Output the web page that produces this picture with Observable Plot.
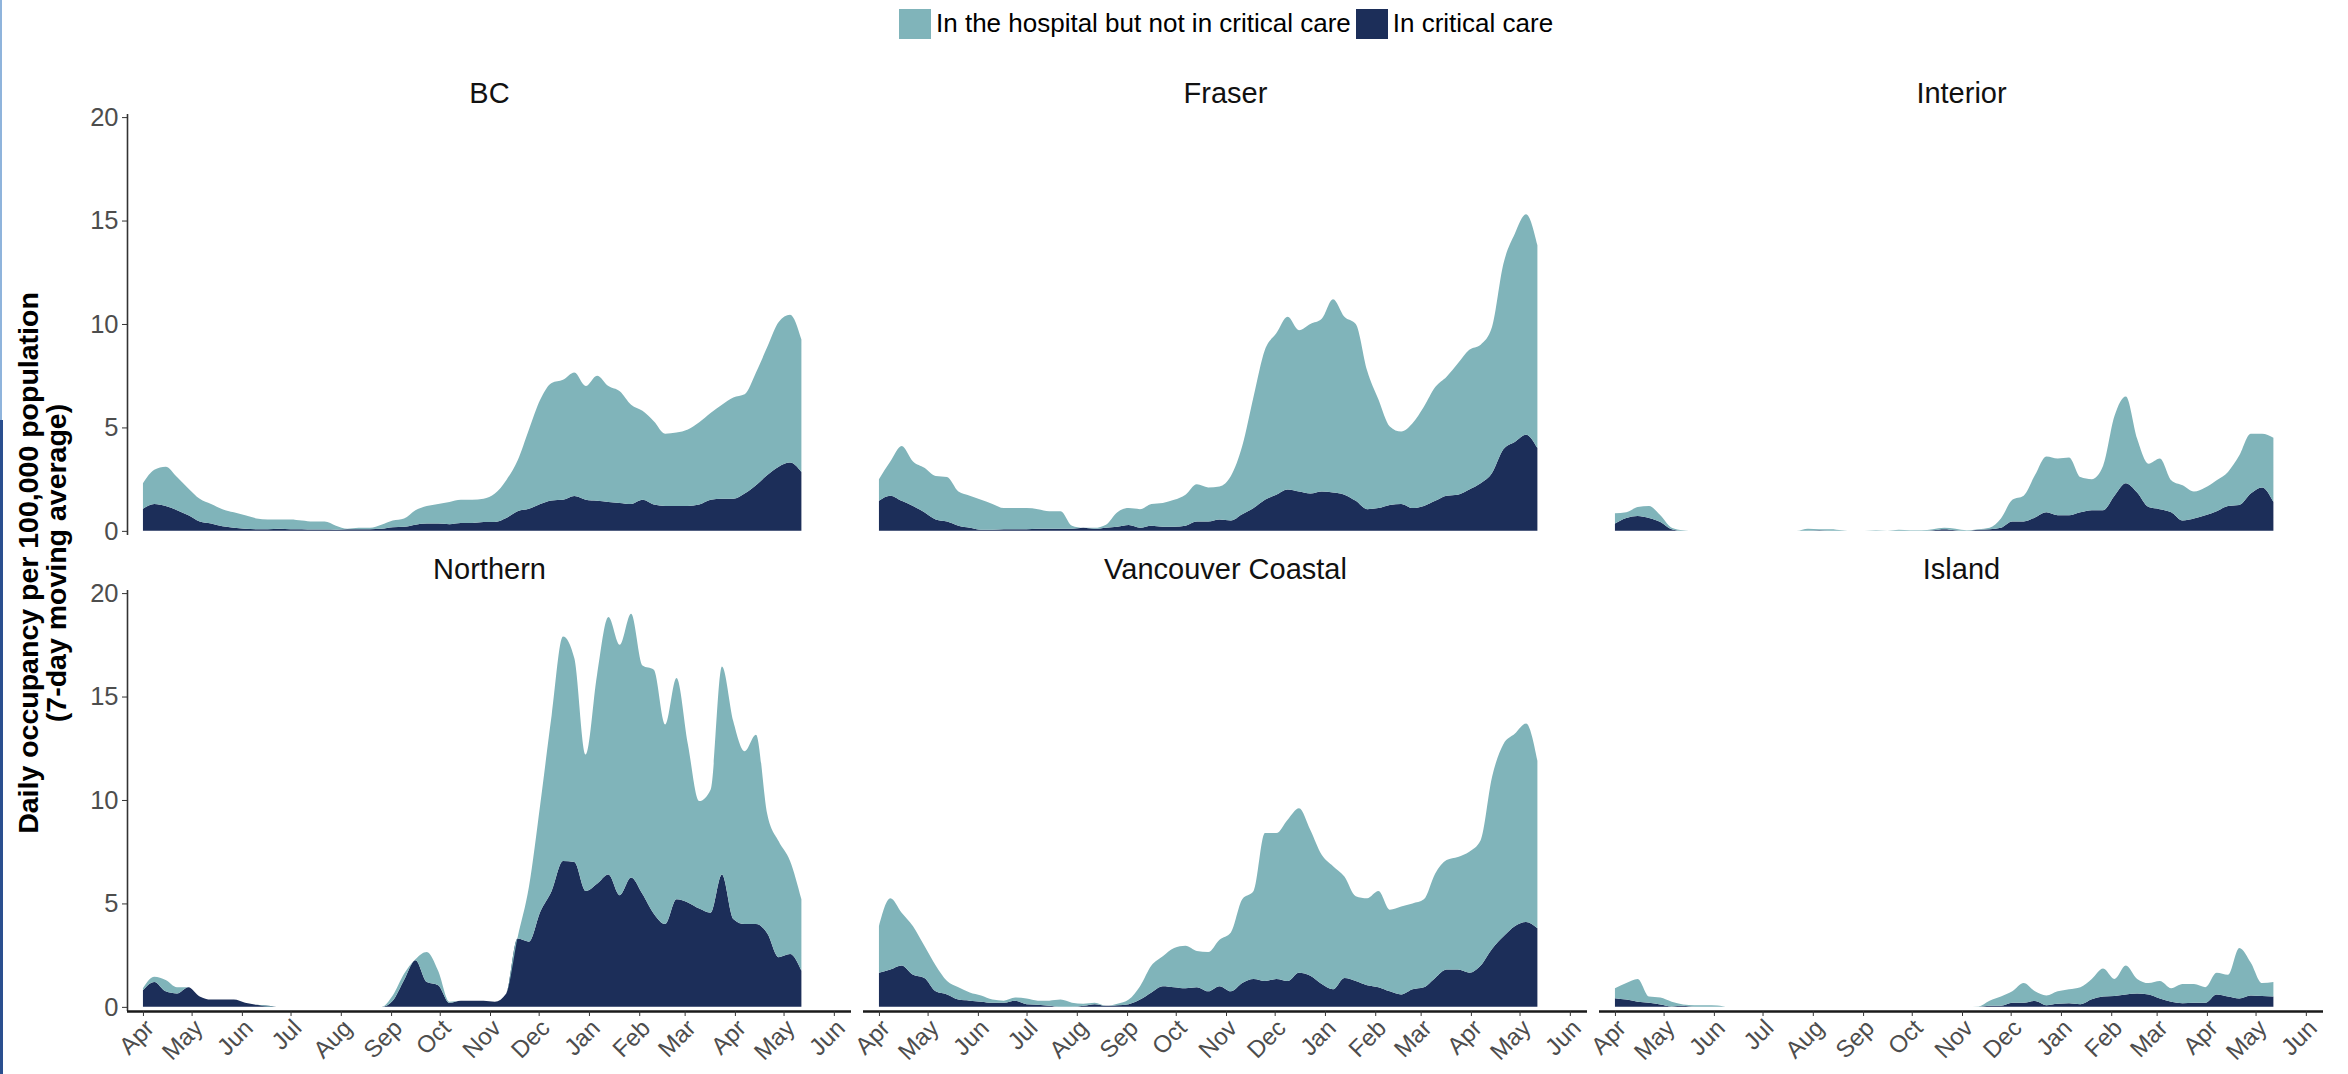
<!DOCTYPE html>
<html>
<head>
<meta charset="utf-8">
<script src="https://cdn.jsdelivr.net/npm/d3@7"></script>
<script src="https://cdn.jsdelivr.net/npm/@observablehq/plot@0.6"></script>
<style>
  html, body { margin: 0; padding: 0; background: #fff; }
  #wrap { position: relative; width: 2348px; height: 1074px; font-family: "Liberation Sans", Arial, sans-serif; overflow: hidden; }
  #legend { position: absolute; left: 899px; top: 8px; display: flex; align-items: center; font-size: 26px; color: #000; white-space: nowrap; }
  #legend .key { width: 32px; height: 30px; margin-right: 5px; }
  #legend .lab { margin-right: 5px; }
  .ytitle { position: absolute; font-weight: bold; font-size: 28.5px; color: #000; white-space: nowrap; transform: translate(-50%, -50%) rotate(-90deg); }
  #edge1 { position: absolute; left: 0; top: 0; width: 2px; height: 420px; background: #8fb4dc; }
  #edge2 { position: absolute; left: 0; top: 420px; width: 3px; height: 654px; background: #2a4f8f; }
</style>
</head>
<body>
<div id="wrap">
  <div id="edge1"></div><div id="edge2"></div>
  <div id="legend"></div>
  <div class="ytitle" style="left:28px; top:563px;">Daily occupancy per 100,000 population</div>
  <div class="ytitle" style="left:56px; top:563px;">(7-day moving average)</div>
</div>
<script>
// ---- categories ----
const regions = ["BC", "Fraser", "Interior", "Northern", "Vancouver Coastal", "Island"];
const seriesNames = ["In the hospital but not in critical care", "In critical care"];
const seriesColors = ["#80b4ba", "#1c2e59"];
const yTicks = [0, 5, 10, 15, 20];
const monthTicks = ["2020-04-01","2020-05-01","2020-06-01","2020-07-01","2020-08-01","2020-09-01","2020-10-01",
  "2020-11-01","2020-12-01","2021-01-01","2021-02-01","2021-03-01","2021-04-01","2021-05-01","2021-06-01"];

// weekly dates (7-day moving average, sampled weekly)
const dates = ["2020-04-01","2020-04-08","2020-04-15","2020-04-22","2020-04-29",
  "2020-05-06","2020-05-13","2020-05-20","2020-05-27",
  "2020-06-03","2020-06-10","2020-06-17","2020-06-24",
  "2020-07-01","2020-07-08","2020-07-15","2020-07-22","2020-07-29",
  "2020-08-05","2020-08-12","2020-08-19","2020-08-26",
  "2020-09-02","2020-09-09","2020-09-16","2020-09-23","2020-09-30",
  "2020-10-07","2020-10-14","2020-10-21","2020-10-28",
  "2020-11-04","2020-11-11","2020-11-18","2020-11-25",
  "2020-12-02","2020-12-09","2020-12-16","2020-12-23","2020-12-30",
  "2021-01-06","2021-01-13","2021-01-20","2021-01-27",
  "2021-02-03","2021-02-10","2021-02-17","2021-02-24",
  "2021-03-03","2021-03-10","2021-03-17","2021-03-24","2021-03-31",
  "2021-04-07","2021-04-14","2021-04-21","2021-04-28",
  "2021-05-05","2021-05-12"];

// ---- values: top of stack (total in hospital) and critical care ----
const bcTotal = [2.3,2.95,3.1,2.6,2.05,1.55,1.3,1.05,0.9,0.75,0.6,0.55,0.55,0.55,0.5,0.45,0.45,0.25,0.1,0.15,0.15,0.3,0.5,0.6,1.0,1.2,1.3,1.4,1.5,1.5,1.55,1.8,2.45,3.4,4.9,6.35,7.15,7.3,7.65,7.0,7.5,7.0,6.75,6.1,5.8,5.3,4.7,4.75,4.9,5.25,5.7,6.1,6.45,6.6,7.65,8.9,10.1,10.45,9.25];
const bcCritical = [1.07,1.3,1.2,1.0,0.75,0.45,0.35,0.22,0.15,0.1,0.08,0.08,0.1,0.08,0.08,0.06,0.06,0.05,0.08,0.08,0.08,0.1,0.18,0.2,0.3,0.35,0.35,0.32,0.38,0.38,0.43,0.43,0.62,0.95,1.07,1.3,1.47,1.5,1.68,1.5,1.45,1.4,1.35,1.3,1.5,1.27,1.2,1.2,1.2,1.27,1.5,1.55,1.55,1.8,2.2,2.7,3.1,3.3,2.85];

const fraserTotal = [2.5,3.35,4.1,3.35,3.05,2.65,2.6,1.9,1.7,1.5,1.3,1.1,1.1,1.1,1.05,0.95,0.95,0.25,0.15,0.15,0.3,0.9,1.1,1.05,1.3,1.35,1.5,1.75,2.25,2.1,2.15,2.65,4.1,6.5,8.75,9.55,10.35,9.7,10.0,10.25,11.2,10.35,10.0,7.75,6.35,5.05,4.8,5.2,6.0,6.95,7.45,8.1,8.75,9.0,9.85,12.9,14.35,15.3,13.8];
const fraserCritical = [1.45,1.7,1.45,1.2,0.9,0.55,0.45,0.25,0.15,0.05,0.05,0.08,0.08,0.08,0.1,0.1,0.1,0.1,0.15,0.1,0.15,0.2,0.28,0.15,0.25,0.2,0.2,0.25,0.45,0.45,0.55,0.5,0.8,1.1,1.5,1.75,2.0,1.9,1.8,1.9,1.85,1.75,1.45,1.05,1.1,1.25,1.3,1.1,1.2,1.45,1.7,1.75,2.0,2.3,2.8,3.95,4.3,4.65,4.0];

const interiorTotal = [0.85,0.9,1.15,1.2,0.75,0.15,0.03,0,0,0,0,0,0,0,0,0,0,0.1,0.08,0.08,0.03,0,0,0.03,0,0.05,0.03,0.03,0.08,0.15,0.1,0.03,0.08,0.15,0.6,1.5,1.7,2.7,3.6,3.5,3.55,2.6,2.5,3.15,5.55,6.5,4.45,3.25,3.5,2.45,2.2,1.9,2.1,2.45,2.85,3.65,4.7,4.7,4.5];
const interiorCritical = [0.35,0.62,0.72,0.62,0.43,0.08,0,0,0,0,0,0,0,0,0,0,0,0,0.03,0,0,0,0,0,0,0,0,0,0.03,0.08,0.03,0,0.05,0.08,0.15,0.45,0.45,0.65,0.9,0.75,0.75,0.9,1.0,1.0,1.7,2.3,1.85,1.15,1.05,0.9,0.5,0.6,0.75,0.95,1.2,1.25,1.8,2.1,1.4];

const northernTotal = [0.9,1.45,1.3,0.95,0.95,0.5,0.35,0.35,0.35,0.2,0.1,0,0,0,0,0,0,0,0,0,0,0,0.55,1.6,2.3,2.65,1.75,0.25,0.3,0.3,0.3,0.25,0.65,3.35,5.8,9.8,14.1,17.9,16.85,12.2,16.05,18.85,17.5,19.0,16.5,16.3,13.65,15.9,12.7,9.95,10.5,16.45,13.8,12.35,13.15,9.3,8.0,7.05,5.2];
const northernCritical = [0.8,1.2,0.75,0.65,0.95,0.5,0.35,0.35,0.35,0.2,0.1,0.05,0,0,0,0,0,0,0,0,0,0,0.3,1.3,2.25,1.2,1.05,0.2,0.3,0.3,0.3,0.25,0.65,3.3,3.15,4.6,5.6,7.05,7.0,5.6,5.95,6.4,5.4,6.25,5.45,4.5,4.0,5.2,5.05,4.75,4.55,6.4,4.25,4.0,4.0,3.55,2.4,2.55,1.75];

const vchTotal = [3.9,5.25,4.55,3.9,2.95,2.0,1.25,0.95,0.7,0.55,0.35,0.3,0.45,0.4,0.3,0.3,0.35,0.2,0.15,0.2,0.05,0.15,0.35,1.0,2.0,2.45,2.85,2.95,2.7,2.65,3.25,3.6,5.2,5.6,8.4,8.4,9.05,9.6,8.55,7.35,6.8,6.3,5.35,5.25,5.6,4.7,4.85,5.0,5.2,6.45,7.1,7.25,7.5,8.05,11.1,12.7,13.2,13.7,11.9];
const vchCritical = [1.65,1.8,2.0,1.55,1.4,0.75,0.6,0.35,0.3,0.25,0.2,0.2,0.3,0.13,0.1,0.05,0,0,0.05,0.13,0.05,0.08,0.13,0.35,0.7,1.0,0.95,0.9,0.95,0.75,1.0,0.75,1.15,1.35,1.25,1.35,1.25,1.65,1.5,1.1,0.85,1.4,1.25,1.05,0.95,0.75,0.6,0.85,0.95,1.4,1.8,1.8,1.65,2.0,2.8,3.4,3.9,4.1,3.8];

const islandTotal = [0.9,1.15,1.35,0.5,0.45,0.25,0.12,0.08,0.08,0.07,0,0,0,0,0,0,0,0,0,0,0,0,0,0,0,0,0,0,0,0,0,0,0.02,0.3,0.5,0.75,1.15,0.75,0.55,0.75,0.85,0.95,1.35,1.85,1.35,2.0,1.35,1.15,1.25,0.9,1.1,1.1,0.95,1.65,1.55,2.85,2.15,1.15,1.2];
const islandCritical = [0.42,0.35,0.25,0.2,0.12,0.02,0.05,0,0,0,0,0,0,0,0,0,0,0,0,0,0,0,0,0,0,0,0,0,0,0,0,0,0,0.05,0.05,0.2,0.2,0.28,0.08,0.15,0.18,0.13,0.37,0.5,0.53,0.6,0.65,0.6,0.4,0.25,0.18,0.2,0.2,0.6,0.5,0.4,0.55,0.53,0.5];

// ---- build table ----
const seriesList = [
  {name: "BC", total: bcTotal, critical: bcCritical},
  {name: "Fraser", total: fraserTotal, critical: fraserCritical},
  {name: "Interior", total: interiorTotal, critical: interiorCritical},
  {name: "Northern", total: northernTotal, critical: northernCritical},
  {name: "Vancouver Coastal", total: vchTotal, critical: vchCritical},
  {name: "Island", total: islandTotal, critical: islandCritical}
];
const table = [];
seriesList.forEach((s) => {
  const i = regions.indexOf(s.name);
  dates.forEach((d, j) => table.push({
    region: s.name, col: i % 3, row: Math.floor(i / 3),
    date: new Date(d), total: s.total[j], critical: s.critical[j]
  }));
});
const panels = regions.map((name, i) => ({name, col: i % 3, row: Math.floor(i / 3)}));

const xDomain = [new Date("2020-03-22T04:00:00Z"), new Date("2021-06-11T14:00:00Z")];

const chart = Plot.plot({
  width: 2348,
  height: 1074,
  marginTop: 113,
  marginLeft: 126,
  marginRight: 24,
  marginBottom: 62,
  style: {fontFamily: "'Liberation Sans', Arial, sans-serif", background: "transparent", overflow: "visible"},
  fx: {domain: [0, 1, 2], paddingInner: 0.0163, paddingOuter: 0, axis: null},
  fy: {domain: [0, 1], paddingInner: 0.1153, paddingOuter: 0, axis: null},
  x: {type: "utc", domain: xDomain},
  y: {domain: [-0.2, 20.15]},
  marks: [
    Plot.areaY(table, {x: "date", y1: 0, y2: "critical", fx: "col", fy: "row", fill: seriesColors[1], curve: "monotone-x"}),
    Plot.areaY(table, {x: "date", y1: "critical", y2: "total", fx: "col", fy: "row", fill: seriesColors[0], curve: "monotone-x"}),
    Plot.ruleX([xDomain[0]], {facetAnchor: "left", stroke: "#333", strokeWidth: 1.6}),
    Plot.ruleY([-0.2], {facetAnchor: "bottom", stroke: "#1a1a1a", strokeWidth: 2.6}),
    Plot.axisY({ticks: yTicks, tickSize: 5, tickPadding: 4, fontSize: 25.5, fill: "#4d4d4d", stroke: "#333", facetAnchor: "left", label: null}),
    Plot.axisX({ticks: monthTicks.map(d => new Date(d)), tickFormat: d3.utcFormat("%b"), tickRotate: -45,
      textAnchor: "end", lineAnchor: "top", tickSize: 5, tickPadding: 1, fontSize: 24,
      fill: "#4d4d4d", stroke: "#333", facetAnchor: "bottom", label: null}),
    Plot.text(panels, {fx: "col", fy: "row", text: "name", frameAnchor: "top", lineAnchor: "middle", dy: -21, fontSize: 29, fill: "#111"})
  ]
});
chart.style.position = "absolute";
chart.style.left = "0px";
chart.style.top = "0px";
document.getElementById("wrap").appendChild(chart);

// legend
const legend = document.getElementById("legend");
seriesNames.forEach((n, i) => {
  const k = document.createElement("div"); k.className = "key"; k.style.background = seriesColors[i];
  const t = document.createElement("div"); t.className = "lab"; t.textContent = n;
  legend.appendChild(k); legend.appendChild(t);
});
</script>
</body>
</html>
